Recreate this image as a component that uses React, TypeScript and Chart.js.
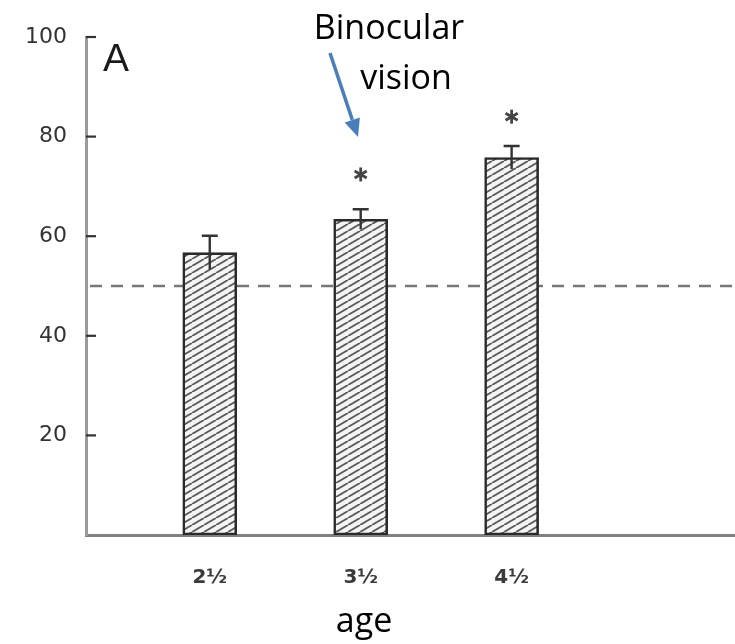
import { useEffect, useRef } from 'react';
import { Chart, registerables } from 'chart.js';

Chart.register(...registerables);

const ageLabels = ['2½', '3½', '4½'];
const agePositions = [2.5, 3.5, 4.5];
const meanPercent = [56.7, 63.4, 75.8];
const errorPercent = [3.4, 2.0, 2.3];
const starHeights: (number | null)[] = [null, 72.4, 84.0];
const chanceLevel = 50;
const yTickValues = [20, 40, 60, 80, 100];
const xRange = [1.68, 5.98];

function makeHatch(ctx: CanvasRenderingContext2D) {
  const c = document.createElement('canvas');
  c.width = 12;
  c.height = 7;
  const g = c.getContext('2d')!;
  g.fillStyle = '#f4f4f4';
  g.fillRect(0, 0, 12, 7);
  g.strokeStyle = '#5a5a5a';
  g.lineWidth = 1.9;
  for (const off of [-12, 0, 12]) {
    g.beginPath();
    g.moveTo(off, 7);
    g.lineTo(off + 12, 0);
    g.stroke();
  }
  return ctx.createPattern(c, 'repeat')!;
}

const overlay = {
  id: 'overlay',
  beforeDatasetsDraw(chart: any) {
    const { ctx, chartArea, scales } = chart;
    const y = scales.y.getPixelForValue(chanceLevel);
    ctx.save();
    ctx.strokeStyle = '#777';
    ctx.lineWidth = 2.6;
    ctx.setLineDash([12, 9]);
    ctx.beginPath();
    ctx.moveTo(chartArea.left + 4, y);
    ctx.lineTo(chartArea.right, y);
    ctx.stroke();
    ctx.restore();
  },
  afterDatasetsDraw(chart: any) {
    const { ctx, scales, chartArea } = chart;
    const xs = scales.x;
    const ys = scales.y;
    ctx.save();
    // error bars
    ctx.strokeStyle = '#333';
    ctx.lineWidth = 2.4;
    meanPercent.forEach((m, i) => {
      const x = xs.getPixelForValue(agePositions[i]);
      const top = ys.getPixelForValue(m + errorPercent[i]);
      const bot = ys.getPixelForValue(m - errorPercent[i]);
      ctx.beginPath();
      ctx.moveTo(x, bot);
      ctx.lineTo(x, top);
      ctx.moveTo(x - 8, top);
      ctx.lineTo(x + 8, top);
      ctx.stroke();
    });
    // asterisks
    ctx.strokeStyle = '#444';
    ctx.lineWidth = 2.8;
    starHeights.forEach((s, i) => {
      if (s == null) return;
      const cx = xs.getPixelForValue(agePositions[i]);
      const cy = ys.getPixelForValue(s);
      const r = 7;
      for (const a of [90, 30, 150]) {
        const rad = (a * Math.PI) / 180;
        ctx.beginPath();
        ctx.moveTo(cx - r * Math.cos(rad), cy - r * Math.sin(rad));
        ctx.lineTo(cx + r * Math.cos(rad), cy + r * Math.sin(rad));
        ctx.stroke();
      }
    });
    // inward tick marks
    ctx.strokeStyle = '#333';
    ctx.lineWidth = 2.2;
    yTickValues.forEach((v) => {
      const y = ys.getPixelForValue(v);
      ctx.beginPath();
      ctx.moveTo(chartArea.left, y);
      ctx.lineTo(chartArea.left + 10, y);
      ctx.stroke();
    });
    ctx.restore();
  },
  afterDraw(chart: any) {
    const { ctx } = chart;
    ctx.save();
    ctx.fillStyle = '#1a1a1a';
    ctx.font = '39px "Liberation Sans", sans-serif';
    ctx.textAlign = 'left';
    ctx.textBaseline = 'alphabetic';
    ctx.fillText('A', 103, 71);

    ctx.fillStyle = '#000';
    ctx.font = '34px "Open Sans", sans-serif';
    ctx.textAlign = 'center';
    ctx.fillText('Binocular', 389, 39);
    ctx.fillText('vision', 406, 89);
    ctx.fillText('age', 364, 632);

    // arrow
    const x1 = 330, y1 = 53, x2 = 358, y2 = 137;
    const ang = Math.atan2(y2 - y1, x2 - x1);
    const headLen = 18, headW = 8;
    const bx = x2 - headLen * Math.cos(ang);
    const by = y2 - headLen * Math.sin(ang);
    ctx.strokeStyle = '#4a7ebb';
    ctx.fillStyle = '#4a7ebb';
    ctx.lineWidth = 3.5;
    ctx.beginPath();
    ctx.moveTo(x1, y1);
    ctx.lineTo(bx, by);
    ctx.stroke();
    ctx.beginPath();
    ctx.moveTo(x2, y2);
    ctx.lineTo(bx + headW * Math.sin(ang), by - headW * Math.cos(ang));
    ctx.lineTo(bx - headW * Math.sin(ang), by + headW * Math.cos(ang));
    ctx.closePath();
    ctx.fill();
    ctx.restore();
  },
};

export default function App() {
  const ref = useRef<HTMLCanvasElement>(null);
  useEffect(() => {
    const canvas = ref.current!;
    const ctx = canvas.getContext('2d')!;
    const hatch = makeHatch(ctx);
    const chart = new Chart(canvas, {
      type: 'bar',
      data: {
        datasets: [
          {
            data: agePositions.map((x, i) => ({ x, y: meanPercent[i] })),
            backgroundColor: hatch,
            borderColor: '#2a2a2a',
            borderWidth: 2.6,
            borderSkipped: false,
            barThickness: 54,
          },
        ],
      },
      options: {
        responsive: false,
        animation: false,
        layout: { padding: { top: 37, left: 0, right: 0, bottom: 0 } },
        plugins: { legend: { display: false }, tooltip: { enabled: false } },
        scales: {
          x: {
            type: 'linear',
            min: xRange[0],
            max: xRange[1],
            offset: false,
            grid: { display: false },
            border: { display: true, color: '#808080', width: 3 },
            afterBuildTicks: (s: any) => {
              s.ticks = agePositions.map((v) => ({ value: v }));
            },
            afterFit: (s: any) => {
              s.height = 109;
            },
            ticks: {
              padding: 23,
              color: '#3a3a3a',
              font: { family: 'DejaVu Sans', size: 20, weight: 'bold' },
              callback: (v: any) => {
                const i = agePositions.indexOf(Number(v));
                return i >= 0 ? ageLabels[i] : '';
              },
            },
          },
          y: {
            min: 0,
            max: 100,
            grid: { display: false, drawTicks: false },
            border: { display: true, color: '#9a9a9a', width: 3 },
            afterBuildTicks: (s: any) => {
              s.ticks = yTickValues.map((v) => ({ value: v }));
            },
            afterFit: (s: any) => {
              s.width = 86;
            },
            ticks: {
              padding: 19,
              color: '#333',
              font: { family: 'DejaVu Sans', size: 22 },
            },
          },
        },
      },
      plugins: [overlay],
    });
    return () => chart.destroy();
  }, []);
  return (
    <div style={{ position: 'absolute', left: 0, top: 0, width: 735, height: 644, background: '#fff' }}>
      <canvas ref={ref} width={735} height={644} style={{ display: 'block' }} />
    </div>
  );
}
